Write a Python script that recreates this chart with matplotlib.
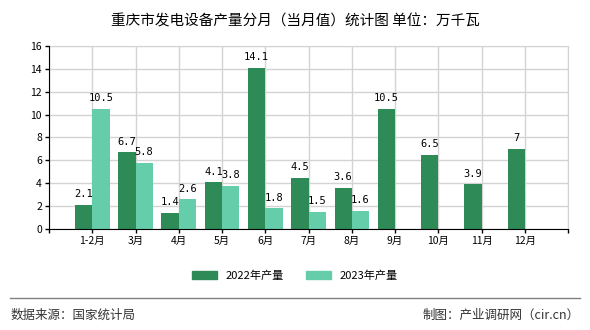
import numpy as np
import matplotlib.pyplot as plt
from matplotlib.patches import Patch

plt.rcParams['font.family'] = ['Noto Sans CJK SC', 'DejaVu Sans']

months = ["1-2月", "3月", "4月", "5月", "6月", "7月", "8月", "9月", "10月", "11月", "12月"]
vals_2022 = [2.1, 6.7, 1.4, 4.1, 14.1, 4.5, 3.6, 10.5, 6.5, 3.9, 7]
vals_2023 = [10.5, 5.8, 2.6, 3.8, 1.8, 1.5, 1.6]
label_2022 = ["2.1", "6.7", "1.4", "4.1", "14.1", "4.5", "3.6", "10.5", "6.5", "3.9", "7"]
label_2023 = ["10.5", "5.8", "2.6", "3.8", "1.8", "1.5", "1.6"]

c_2022 = "#2e8b57"
c_2023 = "#66cdaa"

fig = plt.figure(figsize=(5.9, 3.3), dpi=100)
ax = fig.add_axes([0.083, 0.306, 0.88, 0.555])

x = np.arange(len(months))
x23 = np.arange(len(vals_2023))
w = 0.4
b1 = ax.bar(x - w / 2, vals_2022, w, color=c_2022, zorder=3)
b2 = ax.bar(x23 + w / 2, vals_2023, w, color=c_2023, zorder=3)

# value labels above each bar
for bars, labels in ((b1, label_2022), (b2, label_2023)):
    for rect, lab in zip(bars, labels):
        ax.annotate(lab, (rect.get_x() + rect.get_width() / 2, rect.get_height()),
                    xytext=(0, 4), textcoords="offset points", ha="center", va="bottom",
                    fontsize=7.5, family="DejaVu Sans Mono", zorder=4)

ax.set_xlim(-1, len(months))
ax.set_ylim(0, 16)
ax.set_yticks(range(0, 17, 2))
ax.set_xticks(np.arange(-1, len(months) + 1))
ax.set_xticklabels([""] + months + [""])
ax.tick_params(axis="both", labelsize=7.5, length=3, width=1, color="black", pad=2)
ax.grid(True, color="#d3d3d3", linewidth=1, zorder=0)
for s in ("top", "right"):
    ax.spines[s].set_color("#d3d3d3")
for s in ("left", "bottom"):
    ax.spines[s].set_color("black")
    ax.spines[s].set_zorder(5)

fig.text(0.5, 0.935, "重庆市发电设备产量分月（当月值）统计图 单位：万千瓦",
         ha="center", va="center", fontsize=10.5)

handles = [Patch(color=c_2022, label="2022年产量"), Patch(color=c_2023, label="2023年产量")]
fig.legend(handles=handles, loc="center", bbox_to_anchor=(0.5, 0.165), ncol=2,
           frameon=False, fontsize=8, handlelength=2.2, handleheight=0.8, columnspacing=2)

fig.add_artist(plt.Line2D([0.017, 0.983], [0.097, 0.097], color="#808080", linewidth=1,
                          transform=fig.transFigure))
fig.text(0.017, 0.045, "数据来源：国家统计局", ha="left", va="center", fontsize=9, color="#333333")
fig.text(0.983, 0.045, "制图：产业调研网（cir.cn）", ha="right", va="center", fontsize=9, color="#333333")

fig.savefig("out.png", dpi=100)
